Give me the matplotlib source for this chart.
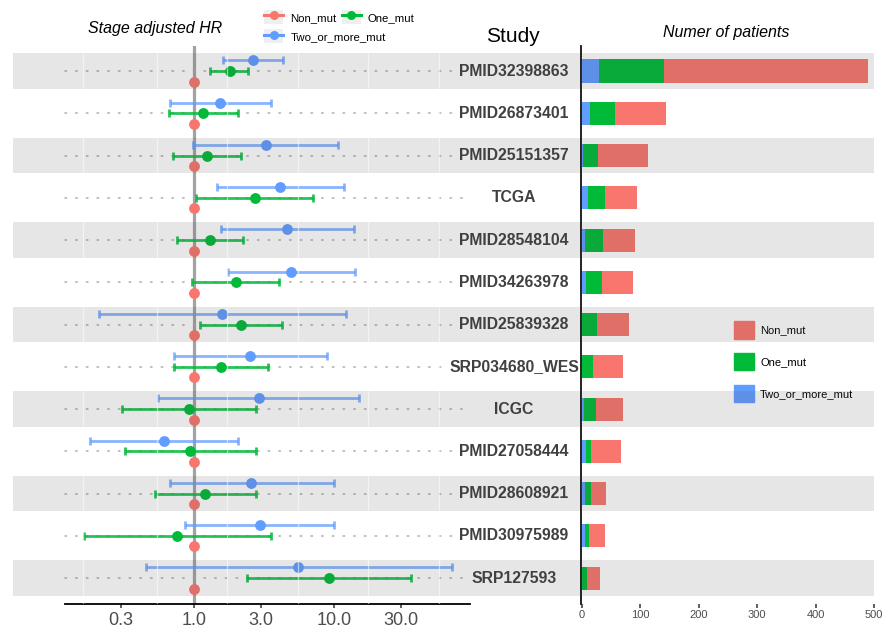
import numpy as np
import matplotlib
matplotlib.use("Agg")
import matplotlib.pyplot as plt
from matplotlib.lines import Line2D
from matplotlib.patches import Rectangle, Patch
from matplotlib.legend_handler import HandlerTuple

plt.rcParams['font.family'] = ['Liberation Sans', 'DejaVu Sans']

# ---------------- data ----------------
studies = ["PMID32398863", "PMID26873401", "PMID25151357", "TCGA", "PMID28548104",
           "PMID34263978", "PMID25839328", "SRP034680_WES", "ICGC", "PMID27058444",
           "PMID28608921", "PMID30975989", "SRP127593"]

non_hr = [1.0] * 13
one_hr = [1.80, 1.16, 1.23, 2.72, 1.31, 1.98, 2.16, 1.55, 0.92, 0.94, 1.19, 0.76, 9.17]
one_lo = [1.31, 0.66, 0.705, 1.04, 0.76, 0.97, 1.10, 0.717, 0.307, 0.322, 0.527, 0.164, 2.37]
one_hi = [2.44, 2.05, 2.16, 7.01, 2.22, 4.03, 4.26, 3.35, 2.75, 2.75, 2.75, 3.52, 35.2]
two_hr = [2.62, 1.54, 3.28, 4.12, 4.60, 4.94, 1.59, 2.52, 2.89, 0.611, 2.55, 2.94, 5.51]
two_lo = [1.62, 0.675, 0.99, 1.46, 1.56, 1.76, 0.211, 0.717, 0.554, 0.182, 0.671, 0.867, 0.457]
two_hi = [4.29, 3.52, 10.7, 11.7, 13.7, 14.0, 12.05, 8.92, 14.9, 2.06, 9.9, 10.0, 68.7]

n_two = [30, 14, 3, 10, 6, 8, 1, 1, 4, 8, 6, 6, 1]
n_one = [111, 43, 25, 30, 31, 27, 25, 18, 21, 8, 10, 7, 8]
n_non = [349, 87, 86, 54, 55, 53, 55, 52, 46, 51, 26, 26, 22]

hr_ticks = [0.3, 1.0, 3.0, 10.0, 30.0]
hr_tick_labels = ["0.3", "1.0", "3.0", "10.0", "30.0"]
n_ticks = [0, 100, 200, 300, 400, 500]

# ---------------- style ----------------
C_NON = '#F8766D'
C_ONE = '#00BA38'
C_TWO = '#619CFF'
BAND = (74 / 255, 74 / 255, 74 / 255)
BAND_A = 0.138
BAND_COMPOSITE = '#E6E6E6'
TXT = '#4D4D4D'

W, H = 884, 630
fig = plt.figure(figsize=(W / 100, H / 100), dpi=100)


def fx(px):
    return px / W


def fy(py):
    return 1 - py / H


top_px, bot_px = 46, 604
ax_f = fig.add_axes([fx(13), fy(bot_px), fx(581 - 13), (bot_px - top_px) / H])
ax_b = fig.add_axes([fx(581), fy(bot_px), fx(874 - 581), (bot_px - top_px) / H])

nrow = len(studies)
rows = np.arange(1, nrow + 1)
ylim = (nrow + 0.615, 0.408)
off = 0.25

# ---------------- forest panel ----------------
ax_f.set_xscale('log')
ax_f.set_xlim(10 ** -1.290, 10 ** 2.758)
ax_f.set_ylim(*ylim)
for s in ['left', 'top', 'right']:
    ax_f.spines[s].set_visible(False)
ax_f.spines['bottom'].set_linewidth(1.3)
ax_f.spines['bottom'].set_bounds(0.1205, 92.7)
ax_f.set_yticks([])
ax_f.set_xticks(hr_ticks)
ax_f.set_xticklabels(hr_tick_labels)
ax_f.minorticks_off()
ax_f.tick_params(axis='x', length=2.6, width=1.1, color='#333333', labelsize=13,
                 labelcolor=TXT, pad=3)

# reference line
ax_f.axvline(1.0, color='#A3A3A3', lw=2.3, zorder=1)
# dotted guide lines
for r in rows:
    ax_f.plot([0.1205, 92.7], [r, r], color='#ADADAD', lw=1.1,
              ls=(0, (1, 6)), zorder=1, dash_capstyle='round')

# error bars and points
y_two = rows - off
y_one = rows
y_non = rows + off
two_hr_a = np.array(two_hr)
one_hr_a = np.array(one_hr)
ax_f.errorbar(two_hr_a, y_two,
              xerr=[two_hr_a - np.array(two_lo), np.array(two_hi) - two_hr_a],
              fmt='none', ecolor=C_TWO, elinewidth=2.0, capsize=3, capthick=2.0,
              alpha=0.75, zorder=2)
ax_f.errorbar(one_hr_a, y_one,
              xerr=[one_hr_a - np.array(one_lo), np.array(one_hi) - one_hr_a],
              fmt='none', ecolor=C_ONE, elinewidth=2.0, capsize=3, capthick=2.0,
              alpha=0.85, zorder=2)
ax_f.plot(two_hr, y_two, 'o', color=C_TWO, ms=7.8, mec='none', zorder=2.5)
ax_f.plot(one_hr, y_one, 'o', color=C_ONE, ms=7.8, mec='none', zorder=2.5)
ax_f.plot(non_hr, y_non, 'o', color=C_NON, ms=7.8, mec='none', zorder=2.5)

# bands
for i, r in enumerate(rows):
    if i % 2 == 0:
        ax_f.axhspan(r - 0.425, r + 0.425, color=BAND, alpha=BAND_A, lw=0, zorder=3)
        ax_b.axhspan(r - 0.425, r + 0.425, color=BAND, alpha=BAND_A, lw=0, zorder=3)

# faint white vertical lines on the left panel
for g in 10 ** np.array([-0.791, -0.264, 0.235, 0.741, 1.240, 1.746]):
    ax_f.axvline(g, color='white', lw=0.9, alpha=0.55, zorder=3.5)

# study labels
for i, (r, s) in enumerate(zip(rows, studies)):
    fc = BAND_COMPOSITE if i % 2 == 0 else 'white'
    ax_f.text(0.882, r, s, transform=ax_f.get_yaxis_transform(), ha='center',
              va='center', fontsize=11.3, fontweight='bold', color='#404040',
              zorder=5, bbox=dict(boxstyle='square,pad=0.05', fc=fc, ec='none'))

# ---------------- bar panel ----------------
ax_b.set_xlim(-1.2, 500)
ax_b.set_ylim(*ylim)
for s in ['top', 'right', 'bottom']:
    ax_b.spines[s].set_visible(False)
ax_b.spines['left'].set_linewidth(1.3)
ax_b.spines['left'].set_color('#111111')
ax_b.set_yticks([])
ax_b.set_xticks(n_ticks)
ax_b.tick_params(axis='x', length=2.6, width=1.1, color='#333333', labelsize=8,
                 labelcolor=TXT, pad=2)
bh = 0.545
n_two_a = np.array(n_two)
n_one_a = np.array(n_one)
n_non_a = np.array(n_non)
ax_b.barh(rows, n_two_a, height=bh, color=C_TWO, lw=0, zorder=2)
ax_b.barh(rows, n_one_a, left=n_two_a, height=bh, color=C_ONE, lw=0, zorder=2)
ax_b.barh(rows, n_non_a, left=n_two_a + n_one_a, height=bh, color=C_NON, lw=0, zorder=2)

leg_b = ax_b.legend([Patch(color=C_NON), Patch(color=C_ONE), Patch(color=C_TWO)],
                    ["Non_mut", "One_mut", "Two_or_more_mut"],
                    loc='upper left', bbox_to_anchor=(fx(734), fy(321.5)),
                    bbox_transform=fig.transFigure, frameon=False, fontsize=8,
                    borderpad=0, borderaxespad=0, handlelength=1.8, handleheight=2.0,
                    handletextpad=0.55, labelspacing=1.3)
leg_b.set_zorder(2)

# ---------------- top legend ----------------
def key(c):
    bg = Rectangle((0, 0), 1, 1, facecolor='#EFEFEF', edgecolor='none')
    ln = Line2D([], [], color=c, marker='o', ms=6.5, lw=2.2, mec='none')
    return (bg, ln)


leg_kw = dict(handler_map={tuple: HandlerTuple(ndivide=1, pad=0)},
              loc='upper left', frameon=False, fontsize=8.2, borderpad=0,
              borderaxespad=0, handlelength=1.7, handleheight=1.5,
              handletextpad=0.6, columnspacing=0.45)
fig.legend([key(C_NON), key(C_ONE)], ["Non_mut", "One_mut"], ncol=2,
           bbox_to_anchor=(fx(264), fy(10)), **leg_kw)
fig.legend([key(C_TWO)], ["Two_or_more_mut"], ncol=1,
           bbox_to_anchor=(fx(264), fy(29.5)), **leg_kw)

# ---------------- titles ----------------
fig.text(fx(155), fy(29), "Stage adjusted HR", ha='center', va='center',
         fontsize=11.5, style='italic', color='black')
fig.text(fx(513), fy(36), "Study", ha='center', va='center', fontsize=15,
         color='black')
fig.text(fx(726), fy(32), "Numer of patients", ha='center', va='center',
         fontsize=11.5, style='italic', color='black')

fig.savefig("out.png", dpi=100)
